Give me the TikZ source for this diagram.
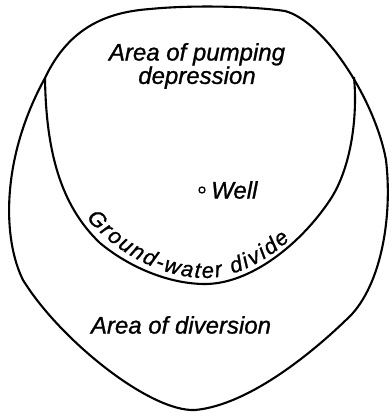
\documentclass[tikz,border=0pt]{standalone}
\usepackage{fontspec}
\setmainfont{Liberation Sans}[ItalicFeatures={FakeBold=1}]
\usetikzlibrary{decorations.text}
\tikzset{bd/.style={line width=2.1pt,line join=round},
 lb/.style={font=\fontsize{24}{15}\selectfont\itshape,align=center,inner sep=0pt},
 dot/.style={draw,circle,line width=1.3pt,minimum size=6pt,inner sep=0pt}}
\newcommand{\divfont}{\fontsize{22}{22}\selectfont\itshape}

\begin{document}
\begin{tikzpicture}[x=1pt,y=-1pt]
\useasboundingbox(0,0)rectangle(391,412);
% outer boundary
\draw[bd](150,9)..controls(190,5)and(250,6)..(285,11)
 ..controls(325,22)and(375,100)..(386,160)
 ..controls(393,220)and(380,290)..(346,320)
 ..controls(315,350)and(250,405)..(195,410)
 ..controls(150,412)and(60,340)..(23,280)
 ..controls(3,240)and(0,160)..(45,78)
 ..controls(70,25)and(110,12)..(150,9)--cycle;
% ground-water divide
\draw[bd](45,78)..controls(46,150)and(60,205)..(100,243)
 ..controls(130,268)and(170,284)..(205,284)
 ..controls(250,284)and(300,245)..(330,200)
 ..controls(350,170)and(358,120)..(354,77);
\node[lb](pump)at(197,66){Area of pumping\\depression};
\node[dot](w)at(202,190){};\node[lb,anchor=west](well)at(211,190){Well};
\node[lb](div)at(181,325){Area of diversion};
\path[decorate,decoration={text along path,text={|\divfont|Ground-water divide},raise=6pt,text align=fit to path}]
 (82,222)..controls(115,262)and(165,284)..(205,284)..controls(240,284)and(275,262)..(294,244);
\end{tikzpicture}
\end{document}
